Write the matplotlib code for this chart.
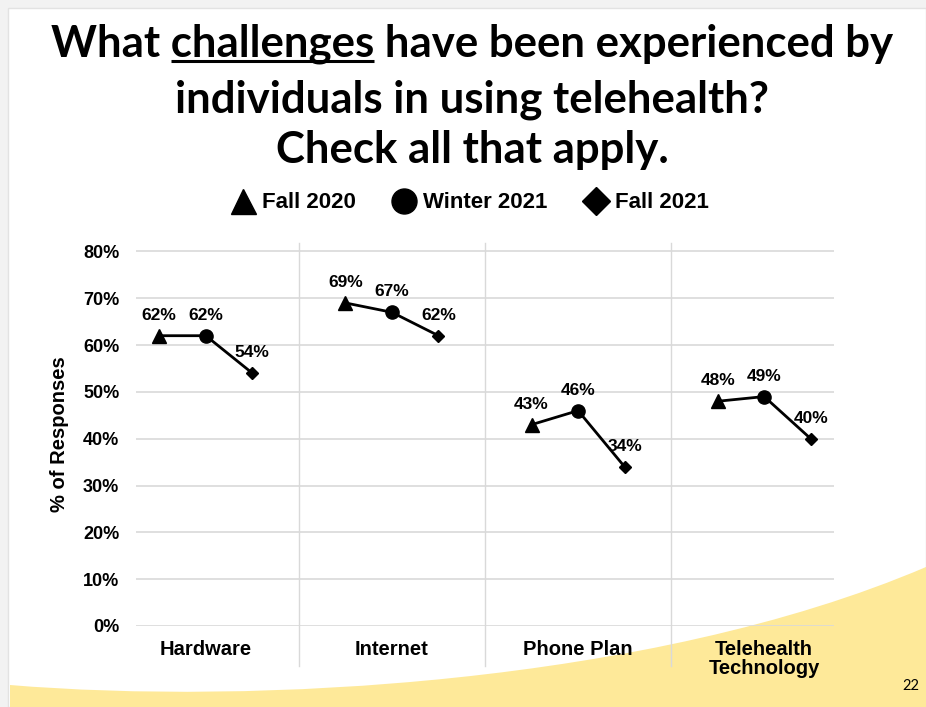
import matplotlib.pyplot as plt
from matplotlib.lines import Line2D
from matplotlib.path import Path
from matplotlib.patches import PathPatch, Rectangle

categories = ["Hardware", "Internet", "Phone Plan", "Telehealth\nTechnology"]
seasons = ["Fall 2020", "Winter 2021", "Fall 2021"]
fall_2020 = [62, 69, 43, 48]
winter_2021 = [62, 67, 46, 49]
fall_2021 = [54, 62, 34, 40]
y_ticks = [0, 10, 20, 30, 40, 50, 60, 70, 80]

markers = ["^", "o", "D"]
marker_sizes = [10, 9.5, 6.5]
legend_sizes = [18, 18, 14]

W, H = 926, 707
fig = plt.figure(figsize=(W / 100, H / 100), dpi=100)
fig.patch.set_facecolor("#f2f2f2")

# background layer in pixel units (origin top-left): slide and yellow swoosh
bg = fig.add_axes([0, 0, 1, 1], zorder=-5)
bg.set_xlim(0, W)
bg.set_ylim(H, 0)
bg.axis("off")
bg.add_patch(Rectangle((8, 8), W - 8, H - 8, facecolor="white",
                       edgecolor="#e2e2e2", lw=1))
swoosh = Path(
    [(10, 685), (250, 705), (650, 685), (926, 567), (926, 707), (10, 707), (10, 685)],
    [Path.MOVETO, Path.CURVE4, Path.CURVE4, Path.CURVE4,
     Path.LINETO, Path.LINETO, Path.CLOSEPOLY],
)
bg.add_patch(PathPatch(swoosh, facecolor="#fee999", edgecolor="none"))

# title
title_font = dict(family=["Lato", "DejaVu Sans"], weight="bold", size=31.5)
title_x = 0.51
line1 = "What challenges have been experienced by"
t1 = fig.text(title_x, 1 - 57 / H, line1, ha="center", va="baseline", **title_font)
fig.text(title_x, 1 - 112 / H, "individuals in using telehealth?",
         ha="center", va="baseline", **title_font)
fig.text(title_x, 1 - 163 / H, "Check all that apply.",
         ha="center", va="baseline", **title_font)

fig.canvas.draw()
renderer = fig.canvas.get_renderer()
full_bb = t1.get_window_extent(renderer)
tmp = fig.text(0, 0, "What challenges", **title_font)
w_pre = tmp.get_window_extent(renderer).width
tmp.set_text("challenges")
w_word = tmp.get_window_extent(renderer).width
tmp.remove()
ux0 = full_bb.x0 + w_pre - w_word
ux1 = full_bb.x0 + w_pre
bg.plot([ux0, ux1], [61, 61], color="black", lw=2.2, solid_capstyle="butt")

# legend
handles = [Line2D([], [], ls="none", marker=m, ms=s, color="black")
           for m, s in zip(markers, legend_sizes)]
fig.legend(handles, seasons, loc="center", bbox_to_anchor=(0.508, 1 - 203 / H),
           ncol=3, frameon=False, handlelength=1.0, handletextpad=0.35,
           columnspacing=1.7,
           prop=dict(family="Liberation Sans", weight="bold", size=16))

# main chart
ax = fig.add_axes([136 / W, 1 - 626 / H, 698 / W, 383 / H])
ax.set_facecolor("none")
ax.set_xlim(-0.5, 14.5)
ax.set_ylim(0, 81.8)

centers = [4 * i + 1 for i in range(len(categories))]
series = [fall_2020, winter_2021, fall_2021]

for i, c in enumerate(centers):
    xs = [c - 1, c, c + 1]
    ys = [s[i] for s in series]
    ax.plot(xs, ys, color="black", lw=2.0, zorder=3)
    for x, y, m, ms in zip(xs, ys, markers, marker_sizes):
        ax.plot(x, y, marker=m, ms=ms, color="black", zorder=4)
        ax.annotate(f"{y}%", (x, y), xytext=(0, 11.5), textcoords="offset points",
                    ha="center", va="baseline", fontsize=12.5, fontweight="bold",
                    family="Liberation Sans", zorder=5)

# separators between categories, running below the axis
for i in range(len(centers) - 1):
    ax.axvline(centers[i] + 2, ymin=-0.104, ymax=1, color="#d9d9d9", lw=1,
               clip_on=False, zorder=1)

ax.set_yticks(y_ticks)
ax.set_yticklabels([f"{v}%" for v in y_ticks])
ax.yaxis.grid(True, color="#d9d9d9", lw=1.2)
ax.set_axisbelow(True)
ax.set_xticks(centers)
ax.set_xticklabels(categories, linespacing=1.0)
for spine in ax.spines.values():
    spine.set_visible(False)
ax.tick_params(axis="y", length=0, pad=12, labelsize=13)
ax.tick_params(axis="x", length=0, pad=10, labelsize=14.5)
for lab in ax.get_yticklabels() + ax.get_xticklabels():
    lab.set_fontweight("bold")
    lab.set_family("Liberation Sans")

ax.set_ylabel("% of Responses", fontsize=14.5, fontweight="bold",
              family="Liberation Sans")
ax.yaxis.set_label_coords(-0.096, 0.5)

fig.text(911 / W, 1 - 690 / H, "22", ha="center", va="baseline",
         fontsize=10.5, family=["Lato", "DejaVu Sans"])

fig.savefig("out.png", dpi=100)
